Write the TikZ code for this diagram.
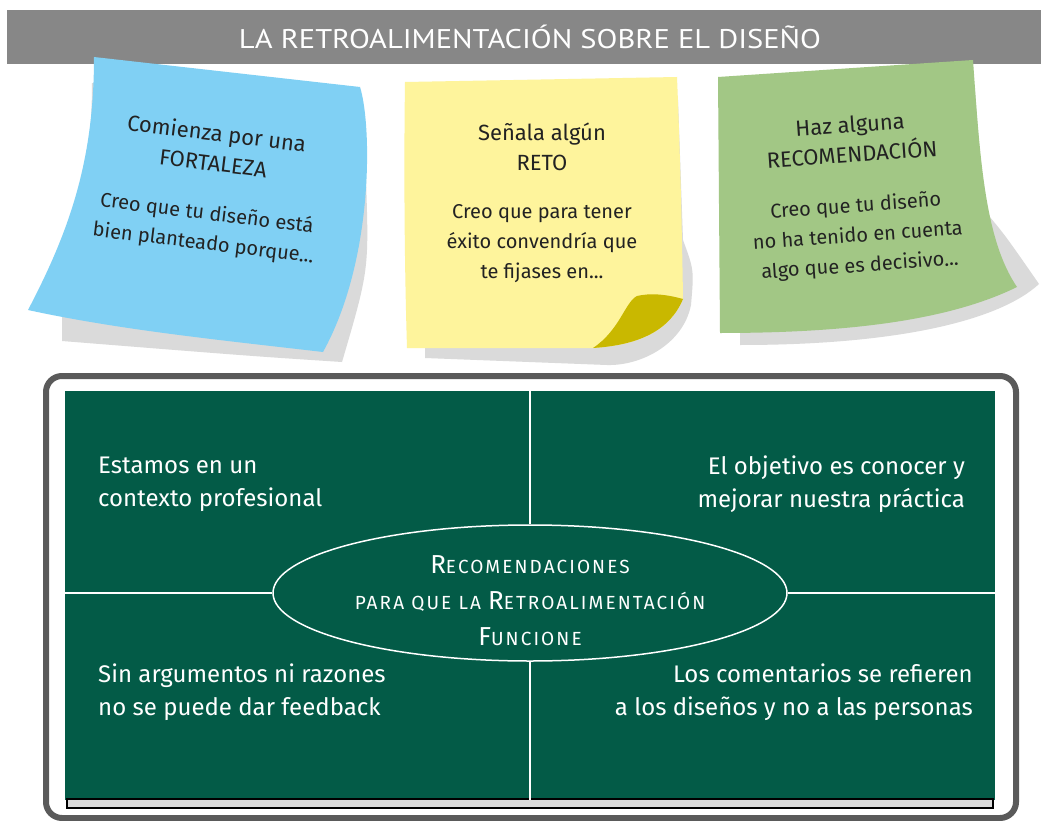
\documentclass[tikz,border=0pt]{standalone}
\usepackage{fontspec}
\setmainfont{Fira Sans}
\newfontfamily\titlefont{PT Sans}[FakeStretch=1.13]
\newfontfamily\scfont{Fira Sans}[LetterSpace=11]
\usetikzlibrary{shapes.geometric}
\definecolor{barcol}{HTML}{878787}
\definecolor{notebluecol}{HTML}{80D0F4}
\definecolor{noteyellowcol}{HTML}{FEF49C}
\definecolor{foldcol}{HTML}{C9B800}
\definecolor{notegreencol}{HTML}{A2C785}
\definecolor{shadowcol}{HTML}{DADADA}
\definecolor{boardcol}{HTML}{035B47}
\definecolor{framecol}{HTML}{5A5A5A}
\definecolor{inkcol}{HTML}{222222}
\tikzset{
  notetext/.style={align=center, text=inkcol, font=\fontsize{22}{30}\selectfont, inner sep=0},
  boardtext/.style={text=white, font=\fontsize{24}{33}\selectfont, inner sep=0},
  divider/.style={draw=white, line width=1.5pt},
}
\newcommand\nb[1]{{\fontsize{20}{29}\selectfont #1}}
\newcommand\myinitial[1]{{\fontsize{26}{36}\selectfont #1}}
\begin{document}
\begin{tikzpicture}[x=1pt,y=-1pt]
\useasboundingbox (0,0) rectangle (1041,821);
\fill[white] (0,0) rectangle (1041,821);
% title bar
\fill[barcol] (7,10) rectangle (1041,64);
\node[text=white, font=\titlefont\fontsize{27}{27}\selectfont, inner sep=0] (title) at (530,37) {LA RETROALIMENTACIÓN SOBRE EL DISEÑO};

% shadows
\fill[shadowcol] (92,83) -- (355,95) -- (366,180) .. controls (369,270) .. (342,362) .. controls (250,356) .. (62,341) -- (62,317) .. controls (80,250) and (92,150) .. cycle;
\fill[shadowcol] (425,100) -- (678,100) -- (683,240) .. controls (694,270) .. (691,305) .. controls (683,345) and (640,366) .. (607,365) -- (425,358) -- cycle;
\fill[shadowcol] (740,90) -- (975,90) -- (984,210) .. controls (1005,235) .. (1039,284) .. controls (1000,320) and (900,345) .. (740,345) -- cycle;

% blue note
\fill[notebluecol] (94,57) -- (360,87) .. controls (372,125) and (374,260) .. (323,352) .. controls (220,340) and (120,330) .. (28,310) .. controls (70,230) and (94,160) .. cycle;
\node[notetext, rotate=-7] (bluenote) at (210,189) {Comienza por una\\FORTALEZA\\[19pt]\nb{Creo que tu diseño está}\\\nb{bien planteado porque...}};

% yellow note
\fill[noteyellowcol] (405,82) -- (677,77) .. controls (680,150) and (682,230) .. (683,299) .. controls (670,330) and (640,345) .. (593,348) -- (407,348) .. controls (404,250) and (404,150) .. cycle;
\fill[foldcol] (637,296) .. controls (625,302) and (620,330) .. (593,348) .. controls (640,345) and (670,330) .. (683,299) .. controls (665,294) and (650,293) .. cycle;
\node[notetext] (yellownote) at (542,203) {Señala algún\\RETO\\[18pt]\nb{Creo que para tener}\\\nb{éxito convendría que}\\\nb{te fijases en...}};

% green note
\fill[notegreencol] (718,77) -- (973,60) .. controls (980,160) and (985,240) .. (1017,287) .. controls (950,320) and (850,333) .. (720,333) -- cycle;
\node[notetext, rotate=4] (greennote) at (855,196) {Haz alguna\\RECOMENDACIÓN\\[20pt]\nb{Creo que tu diseño}\\\nb{no ha tenido en cuenta}\\\nb{algo que es decisivo...}};

% board
\draw[framecol, line width=6pt, rounded corners=16pt] (46,376) rectangle (1016,818);
\fill[boardcol] (65,391) rectangle (995,800);
\coordinate (gtl) at (65,391);
\coordinate (gbr) at (995,800);
\draw[black, line width=2pt, fill=shadowcol] (67,799) rectangle (993,808);

\node[ellipse, divider, minimum width=514pt, minimum height=136pt, inner sep=0] (ell) at (530,593) {};
\draw[divider] (ell.north) -- (ell.north |- gtl);
\draw[divider] (ell.south) -- (ell.south |- gbr);
\draw[divider] (ell.west) -- (ell.west -| gtl);
\draw[divider] (ell.east) -- (ell.east -| gbr);

\node[text=white, align=center, font=\scfont\fontsize{19}{36}\selectfont, inner sep=0] (elltext) at (530,601)
  {\myinitial{R}ECOMENDACIONES\\PARA QUE LA \myinitial{R}ETROALIMENTACIÓN\\\myinitial{F}UNCIONE};

\node[boardtext, anchor=west, align=left] (q1) at (98,484) {Estamos en un\\contexto profesional};
\node[boardtext, anchor=east, align=right] (q2) at (965,484) {El objetivo es conocer y\\mejorar nuestra práctica};
\node[boardtext, anchor=west, align=left] (q3) at (98,692) {Sin argumentos ni razones\\no se puede dar feedback};
\node[boardtext, anchor=east, align=right] (q4) at (973,692) {Los comentarios se refieren\\a los diseños y no a las personas};
\end{tikzpicture}
\end{document}
